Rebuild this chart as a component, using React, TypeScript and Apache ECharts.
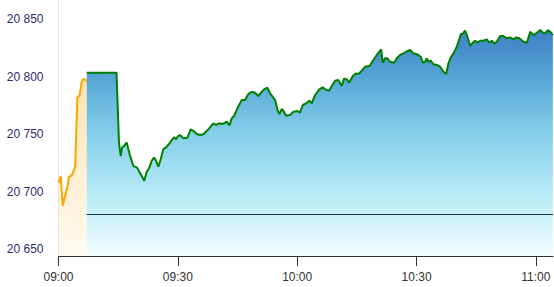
import React, { useEffect, useRef } from "react";
import * as echarts from "echarts";

// minutes after 09:00
const preTimes = [0, 0.55, 1.06, 1.81, 2.14, 2.64, 3.32, 4.07, 4.2, 4.73, 5.28, 5.83, 6.24, 6.66, 7.09];
const preValues = [20707.9, 20713.7, 20687.7, 20699.2, 20702.4, 20713.1, 20714.2, 20720.5, 20722.4, 20782.0, 20783.7, 20795.5, 20798.1, 20797.7, 20795.9];

const mainTimes = [
  7.09, 14.58, 15.21, 15.64, 15.97, 16.47, 17.15, 17.55, 17.98, 18.81, 19.66, 20.32, 20.92, 21.55, 22.18, 22.83,
  23.43, 24.01, 24.52, 25.09, 25.7, 26.35, 27.03, 27.78, 28.46, 29.04, 29.55, 30.05, 30.55, 31.38, 32.39, 33.24,
  33.89, 34.75, 35.58, 36.41, 37.67, 38.92, 39.6, 40.43, 41.04, 41.61, 42.29, 42.95, 43.55, 44.13, 44.96, 46.07,
  46.89, 47.72, 48.58, 49.41, 50.24, 51.09, 51.67, 52.5, 53.18, 54.44, 55.12, 55.52, 56.12, 56.53, 57.2, 58.21,
  59.04, 60.05, 60.72, 61.4, 62.23, 63.06, 63.67, 64.5, 65.58, 66.43, 67.01, 68.02, 68.69, 69.52, 70.35, 71.21,
  71.79, 72.47, 73.05, 73.98, 74.81, 75.38, 75.99, 76.49, 77.07, 78.15, 79.15, 80.16, 81.09, 81.52, 82.1, 82.68,
  83.35, 84.36, 85.04, 85.87, 86.7, 87.38, 88.38, 89.21, 89.89, 90.47, 91.07, 91.58, 92.16, 92.58, 92.98, 93.59,
  94.24, 95.1, 95.93, 96.76, 97.44, 98.01, 98.62, 99.27, 99.95, 100.53, 101.13, 101.64, 102.21, 102.79, 103.47,
  104.15, 104.73, 105.31, 105.98, 106.81, 107.67, 108.32, 108.92, 109.5, 110.18, 111.01, 111.84, 112.7, 113.53,
  114.36, 115.04, 115.87, 116.87, 117.73, 118.56, 119.39, 120.24, 121.07, 121.75, 122.33, 123.0, 123.59, 124.26,
];
const mainValues = [
  20803.6, 20803.6, 20742.2, 20731.1, 20738.7, 20739.8, 20743.0, 20737.0, 20731.6, 20722.4, 20721.3, 20717.5,
  20713.7, 20709.7, 20717.5, 20721.0, 20727.0, 20729.7, 20727.0, 20721.8, 20728.3, 20737.0, 20738.7, 20741.6,
  20745.0, 20747.4, 20745.7, 20748.5, 20749.4, 20746.5, 20747.0, 20754.3, 20753.1, 20750.3, 20749.4, 20750.0,
  20754.3, 20759.6, 20758.1, 20759.6, 20759.0, 20759.6, 20761.0, 20757.8, 20763.9, 20765.9, 20772.6, 20779.8,
  20779.8, 20785.0, 20787.0, 20786.2, 20783.3, 20787.0, 20789.1, 20790.5, 20785.7, 20779.8, 20770.5, 20767.7,
  20772.0, 20770.5, 20766.2, 20766.8, 20769.7, 20770.3, 20768.8, 20775.5, 20777.0, 20779.2, 20777.0, 20784.2,
  20789.1, 20790.9, 20789.1, 20787.9, 20792.0, 20796.6, 20797.2, 20792.0, 20798.7, 20797.8, 20794.9, 20800.7,
  20803.0, 20802.4, 20804.4, 20806.5, 20808.8, 20809.4, 20814.6, 20819.8, 20823.9, 20812.3, 20816.1, 20816.1,
  20813.1, 20812.3, 20816.1, 20819.0, 20820.4, 20821.8, 20823.3, 20820.4, 20819.8, 20819.0, 20817.5, 20812.3,
  20813.1, 20816.1, 20813.1, 20814.0, 20810.9, 20810.3, 20808.8, 20804.4, 20802.4, 20811.7, 20817.0, 20820.4,
  20824.8, 20830.5, 20837.0, 20837.8, 20840.1, 20834.9, 20826.8, 20829.7, 20831.4, 20829.7, 20831.4, 20831.4,
  20832.6, 20829.7, 20831.4, 20829.1, 20830.5, 20835.5, 20835.5, 20833.5, 20834.3, 20832.6, 20834.3, 20833.5,
  20830.5, 20829.7, 20839.2, 20836.3, 20838.3, 20840.7, 20838.3, 20837.8, 20840.7, 20839.2, 20836.3,
];

const refLevel = 20680.7;
const xTicks = [0, 30, 60, 90, 120];
const yTicks = [20650, 20700, 20750, 20800, 20850];
const xMin = 0;
const xMax = 124.3;
const yMin = 20644.2;
const yMax = 20866.8;

const fmtTime = (m: number) => {
  const total = 9 * 60 + Math.round(m);
  const h = Math.floor(total / 60);
  const mm = total % 60;
  return `${String(h).padStart(2, "0")}:${String(mm).padStart(2, "0")}`;
};
const fmtNum = (v: number) => String(Math.round(v)).replace(/\B(?=(\d{3})+(?!\d))/g, " ");

export default function App() {
  const ref = useRef<HTMLDivElement>(null);
  useEffect(() => {
    document.body.style.margin = "0";
    if (!ref.current) return;
    const chart = echarts.init(ref.current, undefined, { renderer: "svg" });
    const pre = preTimes.map((t, i) => [t, preValues[i]]);
    const main = mainTimes.map((t, i) => [t, mainValues[i]]);
    chart.setOption({
      animation: false,
      grid: { left: 58.5, right: 1, top: 0, bottom: 31 },
      xAxis: {
        type: "value",
        min: xMin,
        max: xMax,
        interval: 30,
        axisLine: { show: true, lineStyle: { color: "#333", width: 1 } },
        axisTick: { show: true, length: 10, lineStyle: { color: "#333" }, customValues: xTicks },
        axisLabel: {
          customValues: xTicks,
          formatter: (v: number) => fmtTime(v),
          color: "#333",
          fontSize: 12,
          fontFamily: "Liberation Sans, Arial, sans-serif",
          margin: 15,
        },
        splitLine: { show: false },
      },
      yAxis: {
        type: "value",
        min: yMin,
        max: yMax,
        axisLine: { show: true, lineStyle: { color: "#e6e6e6", width: 1 } },
        axisTick: { show: false },
        axisLabel: {
          customValues: yTicks,
          formatter: (v: number) => fmtNum(v),
          color: "#2c2c72",
          fontSize: 12,
          fontFamily: "Liberation Sans, Arial, sans-serif",
          margin: 15,
        },
        splitLine: { show: false },
      },
      series: [
        {
          type: "line",
          data: pre,
          symbol: "none",
          lineStyle: { color: "#ffa500", width: 2 },
          areaStyle: {
            origin: "start",
            opacity: 1,
            color: new echarts.graphic.LinearGradient(0, 0, 0, 1, [
              { offset: 0, color: "rgba(255,165,0,0.3)" },
              { offset: 1, color: "rgba(255,165,0,0.06)" },
            ]),
          },
        },
        {
          type: "line",
          data: main,
          symbol: "none",
          lineStyle: { color: "#008000", width: 2 },
          areaStyle: {
            origin: "start",
            opacity: 1,
            color: new echarts.graphic.LinearGradient(
              0,
              0,
              0,
              256,
              [
                { offset: 0.1, color: "#3a7cc2" },
                { offset: 0.3, color: "#56a5d6" },
                { offset: 0.5, color: "#80cbe8" },
                { offset: 0.78, color: "#bcedf8" },
                { offset: 1, color: "#f2fdff" },
              ],
              true
            ),
          },
          markLine: {
            silent: true,
            symbol: "none",
            label: { show: false },
            lineStyle: { color: "#1a3340", width: 1, type: "solid" },
            data: [[{ coord: [mainTimes[0], refLevel] }, { coord: [xMax, refLevel] }]],
          },
        },
      ],
    });
    return () => chart.dispose();
  }, []);
  return <div ref={ref} style={{ width: 554, height: 287 }} />;
}
